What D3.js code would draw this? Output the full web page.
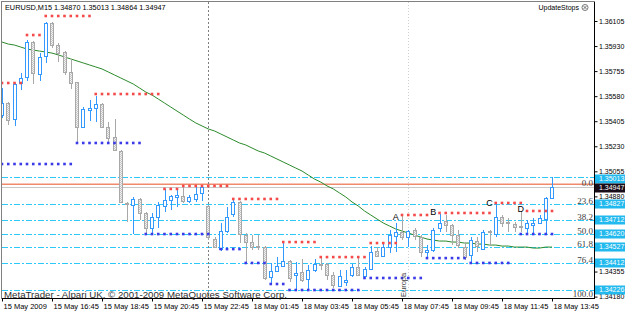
<!DOCTYPE html>
<html>
<head>
<meta charset="utf-8">
<script src="https://cdn.jsdelivr.net/npm/d3@7"></script>
<style>
  body { margin: 0; background: #fff; }
  svg { display: block; font-family: "Liberation Sans", Arial, sans-serif; }
</style>
</head>
<body>
<div id="chart"></div>
<script>
// EURUSD M15 bars, 15 May 2009 14:45 .. 18 May 2009 13:45
const opens = [1.35448,1.35532,1.35420,1.35672,1.35714,1.35958,1.35735,1.35861,1.36091,1.35937,
  1.35888,1.35749,1.35679,1.35365,1.35483,1.35497,1.35525,1.35365,1.35295,1.35197,
  1.34834,1.34820,1.34862,1.34764,1.34659,1.34736,1.34813,1.34855,1.34876,1.34883,
  1.34848,1.34862,1.34904,1.34813,1.34582,1.34512,1.34638,1.34757,1.34841,1.34610,
  1.34561,1.34533,1.34526,1.34317,1.34359,1.34394,1.34429,1.34331,1.34352,1.34303,
  1.34366,1.34408,1.34408,1.34331,1.34254,1.34282,1.34331,1.34387,1.34324,1.34373,
  1.34498,1.34463,1.34526,1.34603,1.34631,1.34596,1.34645,1.34596,1.34491,1.34505,
  1.34659,1.34708,1.34680,1.34610,1.34526,1.34470,1.34568,1.34512,1.34638,1.34617,
  1.34736,1.34701,1.34687,1.34673,1.34659,1.34680,1.34694,1.34722,1.34870];
const highs = [1.35637,1.35539,1.35672,1.35742,1.35972,1.35965,1.35881,1.36098,1.36098,1.35951,
  1.35895,1.35840,1.35679,1.35504,1.35553,1.35581,1.35532,1.35400,1.35420,1.35204,
  1.34841,1.34876,1.34869,1.34771,1.34764,1.34841,1.34932,1.34890,1.34925,1.34953,
  1.34890,1.34953,1.34953,1.34820,1.34596,1.34694,1.34806,1.34855,1.34848,1.34624,
  1.34610,1.34610,1.34533,1.34415,1.34456,1.34561,1.34436,1.34422,1.34442,1.34401,
  1.34442,1.34456,1.34415,1.34352,1.34366,1.34366,1.34408,1.34449,1.34387,1.34533,
  1.34526,1.34554,1.34645,1.34694,1.34743,1.34645,1.34659,1.34610,1.34540,1.34659,
  1.34757,1.34750,1.34687,1.34645,1.34561,1.34596,1.34596,1.34645,1.34645,1.34827,
  1.34750,1.34729,1.34701,1.34778,1.34715,1.34729,1.34750,1.34876,1.35013];
const lows = [1.35427,1.35379,1.35372,1.35623,1.35686,1.35665,1.35686,1.35812,1.35916,1.35819,
  1.35728,1.35630,1.35253,1.35358,1.35406,1.35400,1.35358,1.35260,1.35197,1.34834,
  1.34701,1.34617,1.34715,1.34610,1.34610,1.34659,1.34771,1.34785,1.34806,1.34834,
  1.34834,1.34841,1.34848,1.34575,1.34519,1.34498,1.34624,1.34736,1.34554,1.34415,
  1.34505,1.34505,1.34296,1.34268,1.34352,1.34387,1.34282,1.34226,1.34282,1.34233,
  1.34352,1.34366,1.34296,1.34240,1.34247,1.34254,1.34317,1.34324,1.34317,1.34366,
  1.34456,1.34456,1.34484,1.34491,1.34575,1.34526,1.34575,1.34456,1.34456,1.34491,
  1.34631,1.34631,1.34540,1.34519,1.34436,1.34415,1.34491,1.34505,1.34533,1.34596,
  1.34666,1.34631,1.34631,1.34631,1.34624,1.34624,1.34687,1.34624,1.34864];
const closes = [1.35532,1.35413,1.35665,1.35707,1.35958,1.35742,1.35854,1.36091,1.35937,1.35881,
  1.35749,1.35672,1.35365,1.35490,1.35497,1.35525,1.35365,1.35288,1.35204,1.34841,
  1.34827,1.34862,1.34764,1.34659,1.34736,1.34820,1.34855,1.34883,1.34890,1.34848,
  1.34876,1.34897,1.34946,1.34596,1.34526,1.34638,1.34736,1.34841,1.34617,1.34561,
  1.34526,1.34526,1.34310,1.34359,1.34394,1.34429,1.34310,1.34345,1.34296,1.34366,
  1.34408,1.34401,1.34331,1.34261,1.34324,1.34296,1.34387,1.34331,1.34373,1.34491,
  1.34463,1.34526,1.34610,1.34631,1.34596,1.34638,1.34603,1.34491,1.34505,1.34645,
  1.34694,1.34680,1.34610,1.34540,1.34456,1.34575,1.34533,1.34631,1.34631,1.34736,
  1.34694,1.34694,1.34666,1.34666,1.34694,1.34694,1.34729,1.34869,1.34947];
// moving average line
const maValues = [1.35958,1.35944,1.35937,1.35923,1.35909,1.35902,1.35895,1.35888,1.35881,1.35868,
  1.35854,1.35840,1.35826,1.35812,1.35798,1.35784,1.35770,1.35749,1.35728,1.35707,
  1.35686,1.35665,1.35637,1.35609,1.35588,1.35560,1.35532,1.35504,1.35476,1.35448,
  1.35420,1.35393,1.35372,1.35351,1.35337,1.35316,1.35295,1.35274,1.35253,1.35239,
  1.35218,1.35197,1.35183,1.35162,1.35141,1.35120,1.35099,1.35078,1.35057,1.35029,
  1.35001,1.34980,1.34953,1.34932,1.34904,1.34876,1.34841,1.34813,1.34778,1.34750,
  1.34722,1.34694,1.34673,1.34652,1.34638,1.34624,1.34610,1.34596,1.34582,1.34575,
  1.34568,1.34568,1.34561,1.34561,1.34554,1.34554,1.34547,1.34547,1.34540,1.34540,
  1.34533,1.34533,1.34526,1.34526,1.34526,1.34519,1.34519,1.34526,1.34526];

// UpdateStops dots (bar ranges + price)
const resFrom = [0,4,7,15,26,29,37,45,51,59,64,70,79,84];
const resTo = [3,6,14,25,28,36,44,50,58,63,68,78,83,88];
const resPrices = [1.35672,1.36007,1.36140,1.35595,1.34932,1.34953,1.34862,1.34561,1.34456,1.34554,1.34750,1.34764,1.34834,1.34778];
const supFrom = [0,12,23,35,39,43,46,58,68,75,83];
const supTo = [11,22,33,38,42,45,57,67,74,81,88];
const supPrices = [1.35106,1.35253,1.34617,1.34512,1.34415,1.34268,1.34226,1.34310,1.34449,1.34415,1.34617];

// fibo levels
const fibLevels = [1.35013,1.34827,1.34712,1.34620,1.34527,1.34412,1.34226];
const fibNames = ["0.0","23.6","38.2","50.0","61.8","76.4","100.0"];
const bidPrice = 1.34947;
const askPrice = 1.34965;

const markNames = ["A","B","C","D"];
const markBars = [63,69,78,83];
const markPrices = [1.34740,1.34773,1.34836,1.34792];

const tickBars = [0,8,16,24,32,40,48,56,64,72,80,88];
const tickLabels = ["15 May 2009","15 May 16:45","15 May 18:45","15 May 20:45","15 May 22:45",
  "18 May 01:45","18 May 03:45","18 May 05:45","18 May 07:45","18 May 09:45","18 May 11:45","18 May 13:45"];
// price grid labels left visible by the level boxes
const priceTicks = [1.34180,1.34355,1.34880,1.35055,1.35230,1.35405,1.35580,1.35755,1.35930,1.36105];
const daySepBar = 33;
const europaBar = 65;

const W = 625, H = 313;
const plot = {left: 2, top: 2, right: 594, bottom: 298};

const x = d3.scaleLinear().domain([0, 88]).range([2, 552]);
const y = d3.scaleLinear().domain([1.34180, 1.36105]).range([296.6, 21]);

const svg = d3.select("#chart").append("svg")
  .attr("width", W).attr("height", H);

const defs = svg.append("defs");
defs.append("clipPath").attr("id", "clip")
  .append("rect").attr("x", plot.left).attr("y", plot.top)
  .attr("width", plot.right - plot.left).attr("height", plot.bottom - plot.top);
const pat = defs.append("pattern").attr("id", "dither")
  .attr("width", 2).attr("height", 2).attr("patternUnits", "userSpaceOnUse");
pat.append("rect").attr("width", 2).attr("height", 2).attr("fill", "#f2f2f2");
pat.append("rect").attr("width", 1).attr("height", 1).attr("fill", "#c4c4c4");
pat.append("rect").attr("x", 1).attr("y", 1).attr("width", 1).attr("height", 1).attr("fill", "#c4c4c4");

const g = svg.append("g").attr("clip-path", "url(#clip)");

// fibo lines
g.selectAll(".fib").data(fibLevels).enter().append("line")
  .attr("x1", plot.left).attr("x2", plot.right)
  .attr("y1", d => Math.round(y(d)) + 0.5).attr("y2", d => Math.round(y(d)) + 0.5)
  .attr("stroke", "#2ec8f8").attr("stroke-dasharray", "6,2,2,2")
  .attr("shape-rendering", "crispEdges");

// bid / ask lines
g.append("line").attr("x1", plot.left).attr("x2", plot.right)
  .attr("y1", Math.round(y(bidPrice)) + 0.5).attr("y2", Math.round(y(bidPrice)) + 0.5)
  .attr("stroke", "#c8c8c8").attr("shape-rendering", "crispEdges");
g.append("line").attr("x1", plot.left).attr("x2", plot.right)
  .attr("y1", y(askPrice)).attr("y2", y(askPrice))
  .attr("stroke", "#f08a6c").attr("stroke-width", 1.6);

// separators
g.append("line").attr("x1", Math.round(x(daySepBar)) + 0.5).attr("x2", Math.round(x(daySepBar)) + 0.5)
  .attr("y1", plot.top).attr("y2", plot.bottom)
  .attr("stroke", "#808080").attr("stroke-dasharray", "2,2");
g.append("line").attr("x1", Math.round(x(europaBar)) + 0.5).attr("x2", Math.round(x(europaBar)) + 0.5)
  .attr("y1", plot.top).attr("y2", plot.bottom)
  .attr("stroke", "#d0d0d0").attr("stroke-dasharray", "1,2");

// moving average
g.append("path")
  .datum(maValues)
  .attr("fill", "none").attr("stroke", "#2b8a2b").attr("stroke-width", 1)
  .attr("d", d3.line().x((d, i) => x(i)).y(d => y(d)));

// candles
const bars = d3.range(opens.length).map(i => ({i, o: opens[i], h: highs[i], l: lows[i], c: closes[i]}));
const candle = g.selectAll(".candle").data(bars).enter().append("g")
  .attr("shape-rendering", "crispEdges");
candle.append("line")
  .attr("x1", d => Math.round(x(d.i)) + 0.5).attr("x2", d => Math.round(x(d.i)) + 0.5)
  .attr("y1", d => y(d.h)).attr("y2", d => y(d.l))
  .attr("stroke", d => d.c > d.o ? "#3399ff" : "#a8a8a8");
candle.append("rect")
  .attr("x", d => Math.round(x(d.i)) - 1.5)
  .attr("width", 3)
  .attr("y", d => Math.round(y(Math.max(d.o, d.c))) + 0.5)
  .attr("height", d => Math.max(1, Math.round(Math.abs(y(d.o) - y(d.c)))))
  .attr("fill", d => d.c > d.o ? "#fff" : "url(#dither)")
  .attr("stroke", d => d.c > d.o ? "#3399ff" : "#a8a8a8");

// stop dots
function dots(from, to, prices, color) {
  from.forEach((f, k) => {
    g.selectAll(null).data(d3.range(f, to[k] + 1)).enter().append("rect")
      .attr("x", b => x(b) - 1.3).attr("y", y(prices[k]) - 1.3)
      .attr("width", 2.6).attr("height", 2.6)
      .attr("fill", color);
  });
}
dots(resFrom, resTo, resPrices, "#f44a4a");
dots(supFrom, supTo, supPrices, "#3a3ae8");

// A B C D marks
g.selectAll(".mark").data(markNames).enter().append("text")
  .attr("x", (d, i) => x(markBars[i])).attr("y", (d, i) => y(markPrices[i]))
  .attr("dy", "0.35em").attr("text-anchor", "middle")
  .style("font-size", "9px").attr("fill", "#000").text(d => d);

// fibo labels
const fibDy = {0: 9, 6: 7};
svg.selectAll(".fibtxt").data(fibNames).enter().append("text")
  .attr("x", 593).attr("y", (d, i) => y(fibLevels[i]) + (fibDy[i] || 0))
  .attr("text-anchor", "end")
  .style("font-family", "'Liberation Serif', 'Times New Roman', serif")
  .style("font-size", "9px").attr("fill", "#404040").text(d => d);

// Europa session label
svg.append("text")
  .attr("transform", `translate(${x(europaBar) - 2},297) rotate(-90)`)
  .style("font-size", "7.5px").attr("fill", "#404040").text("Europa");

// frame
svg.append("rect").attr("x", plot.left - 0.5).attr("y", plot.top - 0.5)
  .attr("width", plot.right - plot.left + 1).attr("height", plot.bottom - plot.top + 1)
  .attr("fill", "none").attr("stroke", "#808080");
svg.append("line").attr("x1", plot.right + 0.5).attr("x2", plot.right + 0.5)
  .attr("y1", plot.top).attr("y2", plot.bottom + 1).attr("stroke", "#000");
svg.append("line").attr("x1", plot.left).attr("x2", plot.right)
  .attr("y1", plot.bottom + 0.5).attr("y2", plot.bottom + 0.5).attr("stroke", "#000");

// right price axis
const yAxis = d3.axisRight(y).tickValues(priceTicks).tickSize(3).tickSizeOuter(0)
  .tickFormat(d3.format(".5f"));
const ya = svg.append("g").attr("transform", `translate(${plot.right + 0.5},0)`).call(yAxis);
ya.select(".domain").remove();
ya.selectAll("text").attr("x", 4.5).style("font-size", "7px")
  .style("font-family", "'Liberation Sans', Arial, sans-serif").attr("fill", "#000");

// bottom time axis
const xAxis = d3.axisBottom(x).tickValues(tickBars).tickSize(3).tickSizeOuter(0)
  .tickFormat((d, i) => tickLabels[i]);
const xa = svg.append("g").attr("transform", `translate(0,${plot.bottom + 0.5})`).call(xAxis);
xa.select(".domain").remove();
xa.selectAll("text").attr("text-anchor", "start").attr("x", 1).attr("y", 5)
  .style("font-size", "7.5px").style("font-family", "'Liberation Sans', Arial, sans-serif").attr("fill", "#000");

// price boxes (the top level box is pushed down a little, as the terminal does)
const boxes = fibLevels.map((p, i) => ({p, bg: "#22b9ee", dy: i === 0 ? 2 : 0}))
  .concat([{p: bidPrice, bg: "#1a0d1a", dy: 1}]);
const bx = svg.selectAll(".pbox").data(boxes).enter().append("g")
  .attr("transform", d => `translate(${plot.right + 1},${Math.round(y(d.p)) + d.dy})`);
bx.append("rect").attr("x", 0).attr("y", -4.5).attr("width", 32).attr("height", 9).attr("fill", d => d.bg);
bx.append("text").attr("x", 4).attr("dy", "0.33em")
  .style("font-size", "7px").attr("fill", "#fff").text(d => d3.format(".5f")(d.p));

// header texts
const f5 = d3.format(".5f");
svg.append("text").attr("x", 5).attr("y", 10)
  .style("font-size", "7.3px").attr("fill", "#000")
  .text(`EURUSD,M15  ${f5(opens[88])} ${f5(highs[88])} ${f5(lows[88])} ${f5(closes[88])}`);
svg.append("text").attr("x", 579).attr("y", 10).attr("text-anchor", "end")
  .style("font-size", "7px").attr("fill", "#000").text("UpdateStops");
svg.append("circle").attr("cx", 585).attr("cy", 7.5).attr("r", 3)
  .attr("fill", "none").attr("stroke", "#555").attr("stroke-width", 0.8);
svg.append("path").attr("d", "M583.5,6L586.5,9M586.5,6L583.5,9")
  .attr("stroke", "#555").attr("stroke-width", 0.8);

// copyright
svg.append("text").attr("x", 4).attr("y", 297.5)
  .style("font-size", "9.7px").attr("fill", "#303030")
  .text("MetaTrader - Alpari UK, \u00a9 2001-2009 MetaQuotes Software Corp.");
</script>
</body>
</html>
